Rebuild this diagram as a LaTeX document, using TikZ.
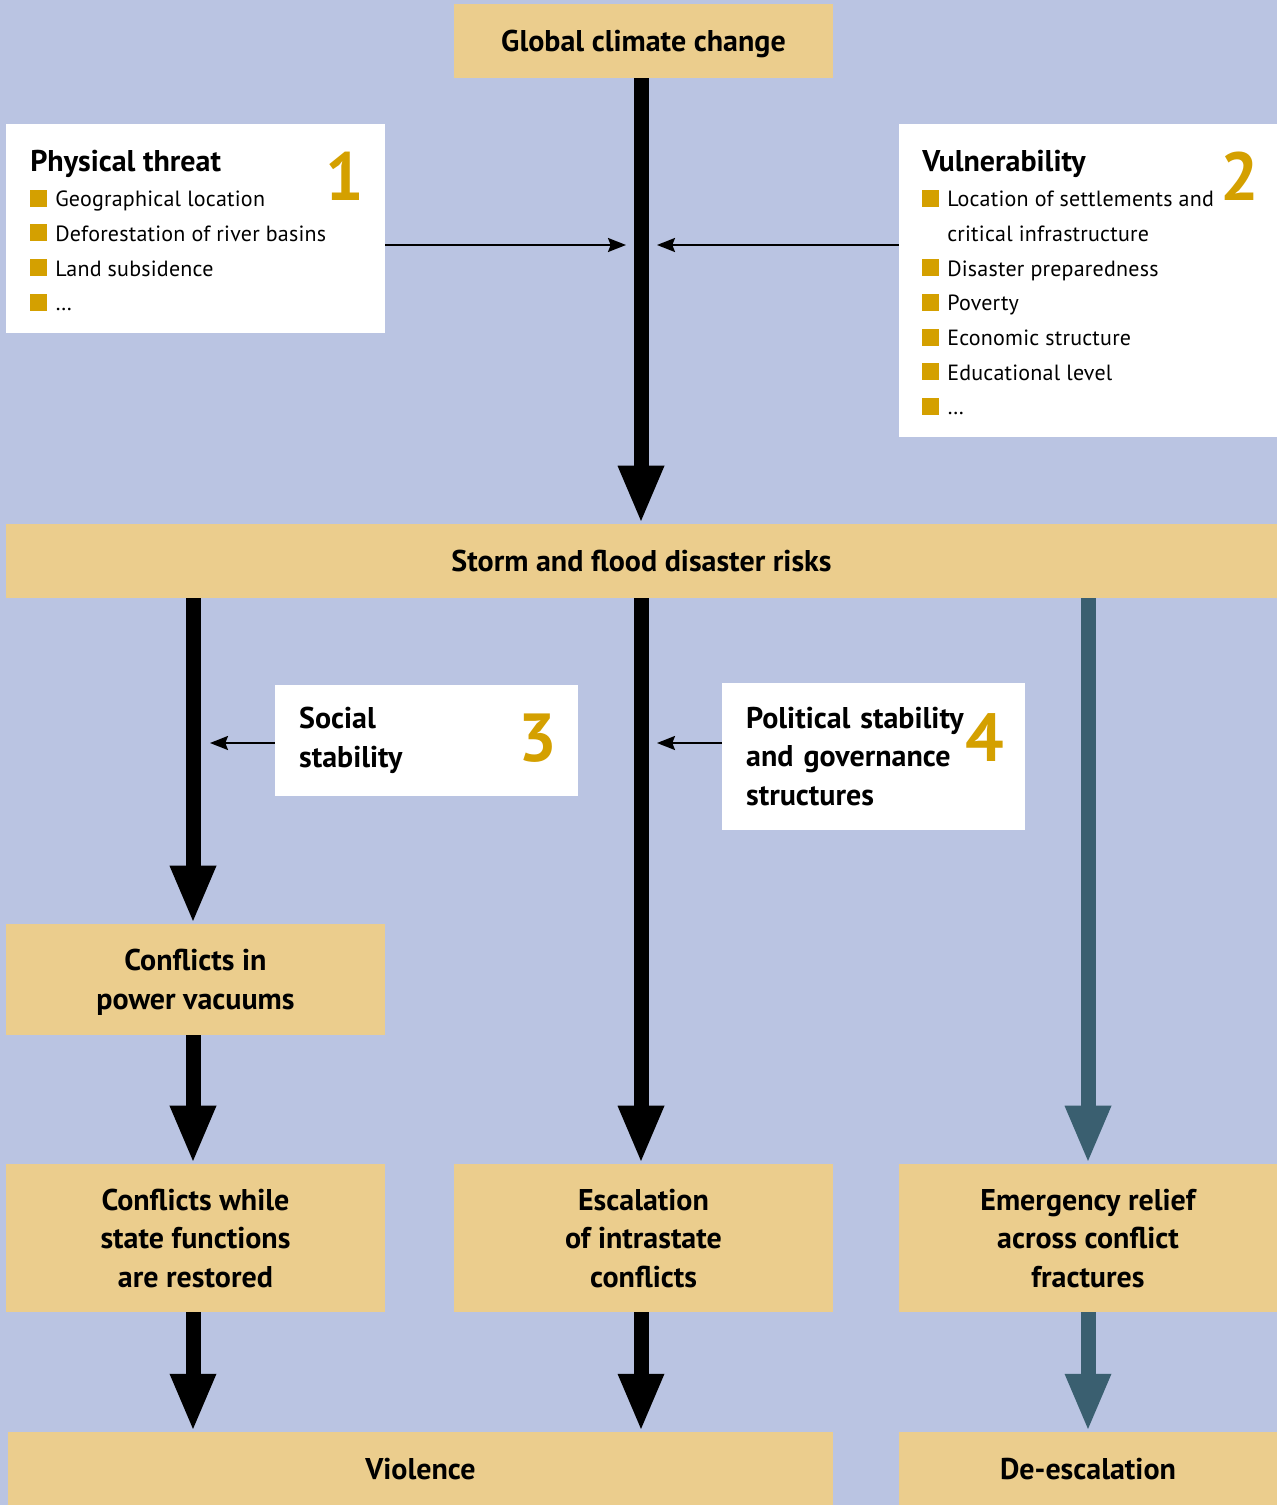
\documentclass[tikz,border=0pt]{standalone}
\usepackage{fontspec}
\setmainfont{PT Sans}
\newfontfamily\itemfont{PT Sans}[LetterSpace=1]
\usetikzlibrary{arrows.meta,positioning,calc}

\definecolor{bgblue}{HTML}{BAC4E2}
\definecolor{boxtan}{HTML}{EBCD8D}
\definecolor{gold}{HTML}{D4A000}
\definecolor{tealarrow}{HTML}{3A5F70}

\newcommand{\bul}{\textcolor{gold}{\rule{12.75pt}{12.75pt}}\hspace{6pt}}

\tikzset{
  stage/.style={fill=boxtan, inner sep=0pt, align=center, text depth=0pt,
    font=\fontsize{22.5}{29}\selectfont\bfseries},
  listbox/.style={fill=white, inner sep=0pt},
  item/.style={inner sep=0pt, font=\fontsize{16.5}{26}\itemfont},
  heading/.style={inner sep=0pt, font=\fontsize{22.5}{29}\selectfont\bfseries},
  factor/.style={fill=white, inner sep=0pt, align=left, text width=191pt,
    font=\fontsize{22.5}{29}\selectfont\bfseries},
  number/.style={inner sep=0pt, text=gold, font=\fontsize{51}{51}\selectfont\bfseries},
  bigarrow/.style={line width=11.25pt, -{Triangle[length=43.5pt,width=31.5pt]}},
  thinarrow/.style={line width=1.5pt, -{Stealth[length=13.5pt,width=10.5pt,inset=2pt]}}
}

\begin{document}
\begin{tikzpicture}[x=0.75pt, y=-0.75pt]
  \fill[bgblue] (0,0) rectangle (1277,1505);

  % columns of the arrows
  \coordinate (colA) at (193,0);
  \coordinate (colB) at (641,0);
  \coordinate (colC) at (1088,0);

  % stages
  \node[stage, minimum width=284.25pt, minimum height=55.5pt] (climate) at (643.5,41) {Global climate change};
  \node[stage, minimum width=953.25pt, minimum height=55.5pt] (storm) at (641.5,561) {Storm and flood disaster risks};
  \node[stage, minimum width=284.25pt, minimum height=83.25pt] (vacuum) at (195.5,979.5) {Conflicts in\\power vacuums};
  \node[stage, minimum width=284.25pt, minimum height=111pt] (restore) at (195.5,1238) {Conflicts while\\state functions\\are restored};
  \node[stage, minimum width=284.25pt, minimum height=111pt] (escal) at (643.5,1238) {Escalation\\of intrastate\\conflicts};
  \node[stage, minimum width=283.5pt, minimum height=111pt] (relief) at (1088,1238) {Emergency relief\\across conflict\\fractures};
  \node[stage, minimum width=618.75pt, minimum height=54.75pt] (violence) at (420.5,1468.5) {Violence};
  \node[stage, minimum width=283.5pt, minimum height=54.75pt] (deesc) at (1088,1468.5) {De-escalation};

  % physical threat
  \node[listbox, minimum width=284.25pt, minimum height=156.75pt] (phys) at (195.5,228.5) {};
  \node[heading, anchor=base west] (physhead) at (30,172) {Physical threat};
  \foreach \t [count=\i] in {Geographical location, Deforestation of river basins, Land subsidence, \dots}
    \node[item, anchor=base west] (phys-\i) at (30,172+34.7*\i) {\bul\t};
  \node[number] (one) at (345,176) {1};

  % vulnerability
  \node[listbox, minimum width=283.5pt, minimum height=234.75pt] (vuln) at (1088,280.5) {};
  \node[heading, anchor=base west] (vulnhead) at (922,172) {Vulnerability};
  \foreach \i/\t in {1/Location of settlements and, 3/Disaster preparedness, 4/Poverty,
                     5/Economic structure, 6/Educational level, 7/\dots}
    \node[item, anchor=base west] (vuln-\i) at (922,172+34.7*\i) {\bul\t};
  \node[item, anchor=base west] (vuln-2) at (947,172+34.7*2) {critical infrastructure};
  \node[number] (two) at (1240,176) {2};

  % social and political factors
  \node[factor, minimum width=227.25pt, minimum height=83.25pt, inner xsep=17pt] (social) at (426.5,740.5) {Social\\stability};
  \node[number] (three) at (538,738) {3};
  \node[factor, minimum width=227.25pt, minimum height=110.25pt, inner xsep=17pt] (polit) at (873.5,756.5) {Political stability\\and governance\\structures};
  \node[number] (four) at (985,738) {4};

  % arrows
  \draw[bigarrow] (climate.south -| colB) -- (storm.north -| colB);
  \draw[bigarrow] (storm.south -| colA) -- (vacuum.north -| colA);
  \draw[bigarrow] (vacuum.south -| colA) -- (restore.north -| colA);
  \draw[bigarrow] (storm.south -| colB) -- (escal.north -| colB);
  \draw[bigarrow, tealarrow] (storm.south -| colC) -- (relief.north -| colC);
  \draw[bigarrow] (restore.south -| colA) -- (violence.north -| colA);
  \draw[bigarrow] (escal.south -| colB) -- (violence.north -| colB);
  \draw[bigarrow, tealarrow] (relief.south -| colC) -- (deesc.north -| colC);

  \coordinate (inL) at (626,245);
  \coordinate (inR) at (657,245);
  \coordinate (inS) at (210,743);
  \coordinate (inP) at (657,743);
  \draw[thinarrow] (phys.east |- inL) -- (inL);
  \draw[thinarrow] (vuln.west |- inR) -- (inR);
  \draw[thinarrow] (social.west |- inS) -- (inS);
  \draw[thinarrow] (polit.west |- inP) -- (inP);
\end{tikzpicture}
\end{document}
